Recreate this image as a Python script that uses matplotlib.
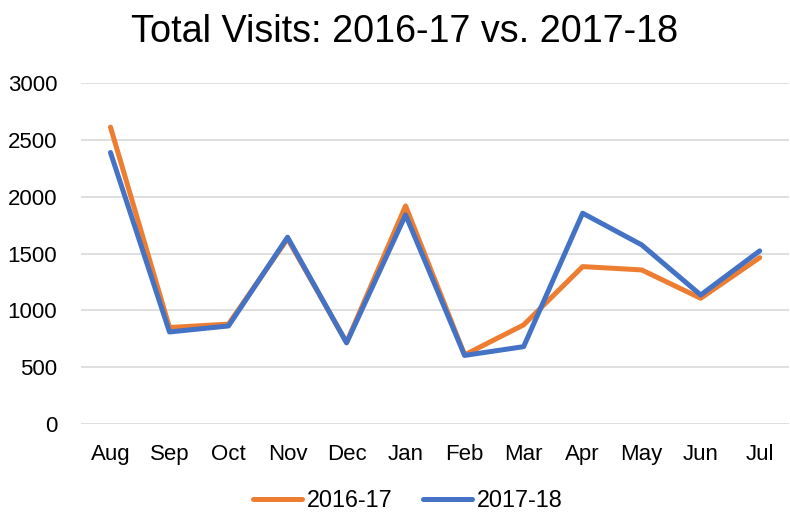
import numpy as np
import matplotlib.pyplot as plt

plt.rcParams['font.family'] = ['Liberation Sans', 'DejaVu Sans']

# Monthly visit counts for the two fiscal years
months = ['Aug', 'Sep', 'Oct', 'Nov', 'Dec', 'Jan', 'Feb', 'Mar', 'Apr', 'May', 'Jun', 'Jul']
visits_2016_17 = [2610, 850, 880, 1630, 720, 1918, 610, 873, 1385, 1356, 1107, 1464]
visits_2017_18 = [2387, 811, 864, 1643, 715, 1839, 605, 682, 1854, 1576, 1136, 1523]

fig = plt.figure(figsize=(7.9, 5.16), dpi=100)
ax = fig.add_axes([0.1025, 0.1777, 0.8965, 0.662])

x = np.arange(len(months))
ax.plot(x, visits_2016_17, color='#ED7D31', lw=3.6, label='2016-17', solid_capstyle='round', solid_joinstyle='round')
ax.plot(x, visits_2017_18, color='#4472C4', lw=3.6, label='2017-18', solid_capstyle='round', solid_joinstyle='round')

ax.set_xlim(-0.5, len(months) - 0.5)
ax.set_ylim(0, 3000)
ax.set_yticks(np.arange(0, 3001, 500))
ax.set_xticks(x)
ax.set_xticklabels(months)
ax.tick_params(axis='both', length=0, labelsize=16, colors='#000000')
ax.tick_params(axis='x', pad=14)
ax.tick_params(axis='y', pad=17)

ax.grid(axis='y', color='#D9D9D9', lw=1.2)
ax.set_axisbelow(True)
for s in ax.spines.values():
    s.set_visible(False)

fig.text(0.5125, 0.938, 'Total Visits: 2016-17 vs. 2017-18', ha='center', va='center', fontsize=27.2)

fig.legend(loc='center', bbox_to_anchor=(0.516, 0.03), ncol=2, frameon=False,
           fontsize=16.8, handlelength=2.1, handletextpad=0.2, columnspacing=1.3)

fig.savefig('out.png', dpi=100)
